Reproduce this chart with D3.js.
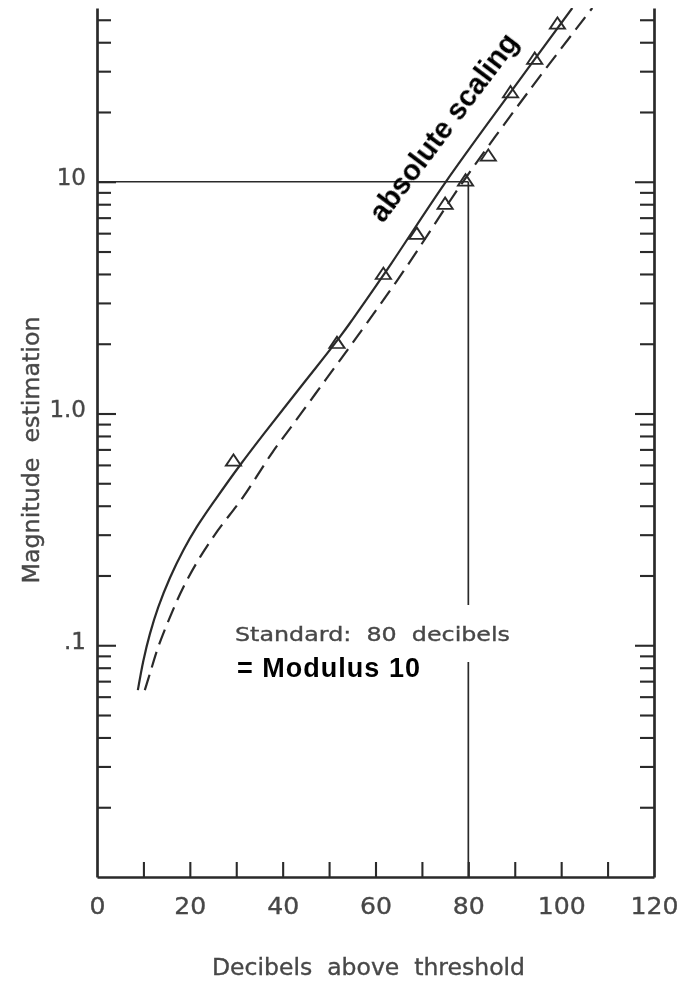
<!DOCTYPE html>
<html>
<head>
<meta charset="utf-8">
<script src="https://cdn.jsdelivr.net/npm/d3@7"></script>
<style>
  html, body { margin: 0; padding: 0; background: #fff; }
  svg { display: block; }
  text.spaced { white-space: pre; }
</style>
</head>
<body>
<div id="chart"></div>
<script>
// Loudness: magnitude estimation vs. decibels above threshold (log ordinate)

// ---- data ----
const xLabelTicks = [0, 20, 40, 60, 80, 100, 120];
const xMarkTicks = [10, 20, 30, 40, 50, 60, 70, 80, 90, 100, 110];
const yLabelTicks = [0.1, 1, 10];
const yLabelText = [".1", "1.0", "10"];
const yMinorTicks = [0.02, 0.03, 0.04, 0.05, 0.06, 0.07, 0.08, 0.09,
                     0.2, 0.3, 0.4, 0.5, 0.6, 0.7, 0.8, 0.9,
                     2, 3, 4, 5, 6, 7, 8, 9,
                     20, 30, 40, 50];
const yMin = 0.01;
const yMax = 56.2;
const xMax = 120;

// solid function (dB, magnitude)
const solidCurve = [
  [8.8, 0.064], [10.0, 0.086], [11.4, 0.112], [13.2, 0.146], [15.7, 0.195],
  [18.6, 0.257], [21.5, 0.324], [25.5, 0.425], [30.8, 0.598], [35.9, 0.815],
  [44.5, 1.35], [52.4, 2.15], [61.7, 3.95], [75.0, 9.9], [89.0, 24.2],
  [102.4, 56.2]
];

// dashed function (dB, magnitude)
const dashedCurve = [
  [10.3, 0.064], [11.4, 0.0755], [13.2, 0.0984], [15.7, 0.132], [18.6, 0.178],
  [22.2, 0.240], [26.0, 0.312], [31.5, 0.437], [37.8, 0.68], [42.1, 0.89],
  [47.1, 1.22], [51.3, 1.59], [56.0, 2.14], [66.0, 4.1], [78.7, 9.9],
  [92.7, 24.1], [106.7, 56.2]
];

// observed estimates (dB, magnitude)
const observed = [
  [29.4, 0.618], [51.7, 1.99], [61.7, 3.95], [68.9, 5.89], [75.0, 7.93],
  [79.4, 10.0], [84.3, 12.8], [89.1, 24.0], [94.3, 33.5], [99.2, 47.5]
];

// standard stimulus
const standardDb = 80;
const standardValue = 10;

// ---- layout ----
const W = 684, H = 982;
const plot = { left: 97, right: 654, top: 8, bottom: 877 };
const ink = "#2a2a2a";
const letterInk = "#474747";
const letterFont = "'DejaVu Sans', sans-serif";

const x = d3.scaleLinear().domain([0, xMax]).range([plot.left, plot.right]);
const y = d3.scaleLog().domain([yMin, yMax]).range([plot.bottom, plot.top]);

const svg = d3.select("#chart").append("svg")
  .attr("width", W).attr("height", H)
  .attr("viewBox", `0 0 ${W} ${H}`);

const defs = svg.append("defs");
defs.append("filter").attr("id", "soft")
  .attr("x", "-5%").attr("y", "-5%").attr("width", "110%").attr("height", "110%")
  .append("feGaussianBlur").attr("stdDeviation", 0.7);
defs.append("clipPath").attr("id", "plotClip")
  .append("rect")
  .attr("x", plot.left).attr("y", plot.top)
  .attr("width", plot.right - plot.left).attr("height", plot.bottom - plot.top);

const layer = svg.append("g").attr("filter", "url(#soft)");

function lettering(sel, size) {
  sel.attr("fill", letterInk)
    .attr("stroke", letterInk).attr("stroke-width", 0.35)
    .style("font-family", letterFont)
    .style("font-size", size + "px");
}

function inkAxis(sel, domainWidth) {
  sel.select(".domain").attr("stroke", ink).attr("stroke-width", domainWidth);
  sel.selectAll(".tick line").attr("stroke", ink).attr("stroke-width", 2.1);
  sel.selectAll(".tick text").call(lettering, 23);
}

// left axis: minor + labelled ticks (drawn inward)
layer.append("g").attr("transform", `translate(${plot.left},0)`)
  .call(d3.axisLeft(y).tickValues(yMinorTicks).tickSizeInner(-14).tickSizeOuter(0).tickFormat(""))
  .call(s => inkAxis(s, 2.7));
layer.append("g").attr("transform", `translate(${plot.left},0)`)
  .call(d3.axisLeft(y).tickValues(yLabelTicks).tickSizeInner(-19).tickSizeOuter(0)
    .tickPadding(11).tickFormat((d, i) => yLabelText[i]))
  .call(s => { s.select(".domain").remove(); inkAxis(s, 0); })
  .call(s => s.selectAll(".tick text").attr("dy", "0.12em"));

// right axis: same ticks, no labels
layer.append("g").attr("transform", `translate(${plot.right},0)`)
  .call(d3.axisRight(y).tickValues(yMinorTicks).tickSizeInner(-14).tickSizeOuter(0).tickFormat(""))
  .call(s => inkAxis(s, 2.7));
layer.append("g").attr("transform", `translate(${plot.right},0)`)
  .call(d3.axisRight(y).tickValues(yLabelTicks).tickSizeInner(-19).tickSizeOuter(0).tickFormat(""))
  .call(s => { s.select(".domain").remove(); inkAxis(s, 0); });

// bottom axis: tick marks every 10 dB, labels every 20 dB
layer.append("g").attr("transform", `translate(0,${plot.bottom})`)
  .call(d3.axisBottom(x).tickValues(xMarkTicks).tickSizeInner(-15).tickSizeOuter(0).tickFormat(""))
  .call(s => inkAxis(s, 2.7));
layer.append("g").attr("transform", `translate(0,${plot.bottom})`)
  .call(d3.axisBottom(x).tickValues(xLabelTicks).tickSize(0).tickPadding(21).tickFormat(d3.format("d")))
  .call(s => { s.select(".domain").remove(); inkAxis(s, 0); })
  .call(s => s.selectAll(".tick text")
    .attr("textLength", d => String(d).length * 16)
    .attr("lengthAdjust", "spacingAndGlyphs"));

// axis titles
layer.append("text")
  .attr("class", "spaced")
  .attr("transform", "translate(39,450) rotate(-90)")
  .attr("text-anchor", "middle")
  .attr("textLength", 267).attr("lengthAdjust", "spacingAndGlyphs")
  .call(lettering, 23)
  .text("Magnitude  estimation");

layer.append("text")
  .attr("class", "spaced")
  .attr("x", 212).attr("y", 975)
  .attr("textLength", 313).attr("lengthAdjust", "spacingAndGlyphs")
  .call(lettering, 23)
  .text("Decibels  above  threshold");

// standard reference lines
layer.append("line")
  .attr("x1", x(0)).attr("x2", x(standardDb))
  .attr("y1", y(standardValue)).attr("y2", y(standardValue))
  .attr("stroke", ink).attr("stroke-width", 1.7);
layer.append("line")
  .attr("x1", x(standardDb)).attr("x2", x(standardDb))
  .attr("y1", y(standardValue)).attr("y2", 605)
  .attr("stroke", ink).attr("stroke-width", 1.7);
layer.append("line")
  .attr("x1", x(standardDb)).attr("x2", x(standardDb))
  .attr("y1", 662).attr("y2", y(yMin))
  .attr("stroke", ink).attr("stroke-width", 1.7);

layer.append("text")
  .attr("class", "spaced")
  .attr("x", 235).attr("y", 641)
  .attr("textLength", 275).attr("lengthAdjust", "spacingAndGlyphs")
  .call(lettering, 20)
  .text("Standard:  80  decibels");

// fitted functions
const line = d3.line()
  .x(d => x(d[0]))
  .y(d => y(d[1]))
  .curve(d3.curveCatmullRom.alpha(0.5));

const curves = layer.append("g").attr("clip-path", "url(#plotClip)");
curves.append("path")
  .attr("d", line(solidCurve))
  .attr("fill", "none").attr("stroke", ink).attr("stroke-width", 2.2);
curves.append("path")
  .attr("d", line(dashedCurve))
  .attr("fill", "none").attr("stroke", ink).attr("stroke-width", 2.2)
  .attr("stroke-dasharray", "16,8");

// observed points: open triangles
const tri = d3.symbol().type(d3.symbolTriangle).size(100);
layer.append("g").selectAll("path")
  .data(observed)
  .join("path")
  .attr("d", tri)
  .attr("transform", d => `translate(${x(d[0])},${y(d[1])}) scale(1,0.86)`)
  .attr("fill", "none").attr("stroke", ink).attr("stroke-width", 2);

// bold annotations
svg.append("text")
  .attr("x", 237).attr("y", 677)
  .attr("textLength", 183).attr("lengthAdjust", "spacing")
  .attr("fill", "#000")
  .style("font-family", "'Liberation Sans', Arial, sans-serif")
  .style("font-weight", "bold").style("font-size", "27px")
  .text("= Modulus 10");

svg.append("text")
  .attr("transform", "translate(383,224) rotate(-53)")
  .attr("fill", "#000")
  .style("font-family", "'Liberation Sans', Arial, sans-serif")
  .style("font-weight", "bold").style("font-size", "29px")
  .text("absolute scaling");
</script>
</body>
</html>
